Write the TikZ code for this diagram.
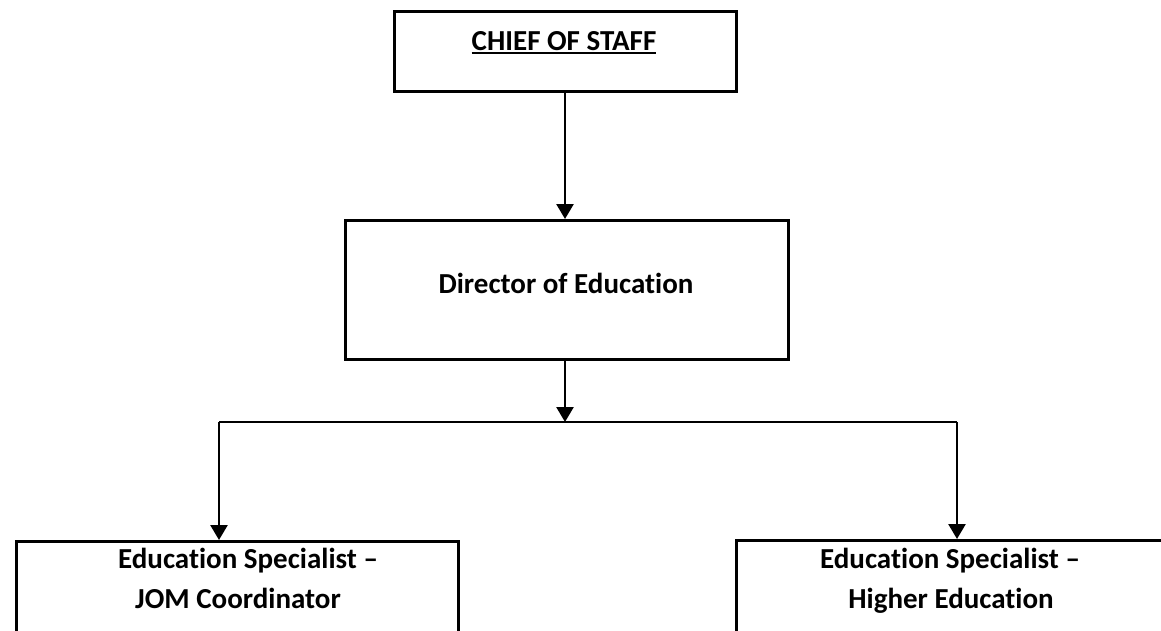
\documentclass[tikz,border=0pt]{standalone}
\usepackage{fontspec}
\setmainfont{Carlito}[RawFeature={-liga;-clig;-calt;-dlig}]
\usetikzlibrary{arrows.meta}
\begin{document}
\begin{tikzpicture}[x=1pt,y=-1pt,
  box/.style={draw=black,line width=2.6pt,fill=none,inner sep=0pt,anchor=north west},
  lbl/.style={inner sep=0pt,anchor=base,font=\bfseries\fontsize{29}{40}\selectfont},
  arr/.style={line width=2.6pt,-{Triangle[width=17pt,length=15pt]}},
  bar/.style={line width=1.5pt}]
\useasboundingbox (0,0) rectangle (1161,630);
\clip (0,0) rectangle (1161,630);
\fill[white] (0,0) rectangle (1161,630);
% boxes
\node[box,minimum width=342pt,minimum height=80pt] (cos) at (393,10) {};
\node[box,minimum width=443pt,minimum height=139pt] (dir) at (344,219) {};
\node[box,minimum width=442pt,minimum height=120pt] (jom) at (15,540) {};
\node[box,minimum width=440pt,minimum height=120pt] (hed) at (735,539) {};
% labels
\node[lbl] (cost) at (564,50) {CHIEF OF STAFF};
\draw[line width=2.5pt] ([yshift=-3pt]cost.base west) -- ([yshift=-3pt]cost.base east);
\node[lbl] (dirt) at (566,293) {Director of Education};
\node[lbl] (jomt1) at (248,568) {Education Specialist –};
\node[lbl] (jomt2) at (238,608) {JOM Coordinator};
\node[lbl] (hedt1) at (950,568) {Education Specialist –};
\node[lbl] (hedt2) at (951,608) {Higher Education};
% connectors
\coordinate (split) at (565,422);
\coordinate (lj) at (219,422);
\coordinate (rj) at (957,422);
\draw[arr] (cos.south -| split) -- (dir.north -| split);
\draw[arr] (dir.south -| split) -- (split);
\draw[bar] (lj) -- (rj);
\draw[arr] (lj) -- (lj |- jom.north);
\draw[arr] (rj) -- (rj |- hed.north);
\end{tikzpicture}
\end{document}
